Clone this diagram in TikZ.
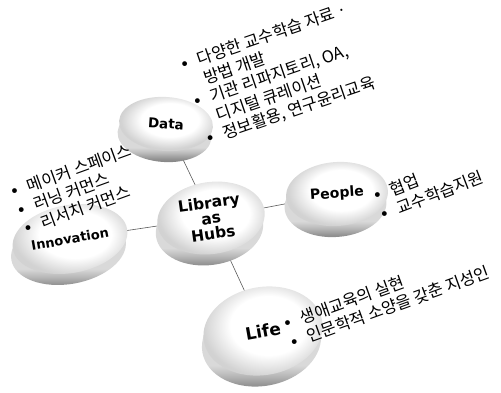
\documentclass[tikz,border=0pt]{standalone}
\usepackage{fontspec}
\setmainfont{Noto Sans CJK KR}
\newfontfamily\labelfont{DejaVu Sans}
\usetikzlibrary{shapes.geometric}
\usetikzlibrary{shadows, backgrounds}

% shadings for the disk rim and the disk top
\pgfdeclareverticalshading{rim}{100bp}{color(0bp)=(gray!95); color(25bp)=(gray!95); color(28bp)=(gray!85); color(33bp)=(gray!55); color(38bp)=(gray!30); color(100bp)=(gray!30)}
\pgfdeclareradialshading{face}{\pgfpoint{3bp}{4bp}}{color(0bp)=(white); color(15bp)=(white); color(25bp)=(gray!35); color(50bp)=(gray!35)}

\newcommand\bul{{\labelfont\textbullet}}

\tikzset{
    disk/.style={ellipse, inner sep=0pt, shading=face, align=center,
        general shadow={shadow xshift=-1.5pt, shadow yshift=-11pt, shading=rim}},
    disktext/.style={font=\labelfont\bfseries\fontsize{#1}{#1}\selectfont},
    items/.style={anchor=base west, inner sep=0pt, rotate=20,
        font=\fontsize{16.5}{19.5}\selectfont},
    spoke/.style={draw=gray!70!black, line width=0.6pt}
}

\begin{document}
\begin{tikzpicture}[x=1pt, y=-1pt]
        \useasboundingbox (0,0) rectangle (501,392);

        % Disks
        \node[disk, disktext=15.5, minimum width=108pt, minimum height=72pt, rotate=8] (hub) at (211,218) {Library\\as\\Hubs};
        \node[disk, disktext=13.5, minimum width=94pt, minimum height=54pt, rotate=-4] (data) at (166,124) {Data};
        \node[disk, disktext=14, minimum width=102pt, minimum height=64pt, rotate=4] (people) at (337,194) {People};
        \node[disk, disktext=13, minimum width=116pt, minimum height=68pt, rotate=10] (innovation) at (70,239) {Innovation};
        \node[disk, disktext=17, minimum width=120pt, minimum height=88pt, rotate=10] (life) at (263,331) {Life};

        % Spokes
        \begin{scope}[on background layer]
            \foreach \n in {data,people,innovation,life} {
                \draw[spoke] (hub.center) -- (\n.center);
            }
        \end{scope}

        % Item lists
        \node[items, rotate=-1] (datalist) at (182,72) {\begin{tabular}[t]{@{}l@{\hspace{9pt}}l@{}}
            \bul & 다양한 교수학습 자료 · \\
                 & 방법 개발 \\
            \bul & 기관 리파지토리, OA, \\
                 & 디지털 큐레이션 \\
            \bul & 정보활용, 연구윤리교육
        \end{tabular}};
        \node[items] (innolist) at (12,199) {\begin{tabular}[t]{@{}l@{\hspace{9pt}}l@{}}
            \bul & 메이커 스페이스 \\
            \bul & 러닝 커먼스 \\
            \bul & 리서치 커먼스
        \end{tabular}};
        \node[items, rotate=1] (peoplelist) at (375,203) {\begin{tabular}[t]{@{}l@{\hspace{9pt}}l@{}}
            \bul & 협업 \\
            \bul & 교수학습지원
        \end{tabular}};
        \node[items] (lifelist) at (285,331) {\begin{tabular}[t]{@{}l@{\hspace{9pt}}l@{}}
            \bul & 생애교육의 실현 \\
            \bul & 인문학적 소양을 갖춘 지성인
        \end{tabular}};
\end{tikzpicture}
\end{document}
